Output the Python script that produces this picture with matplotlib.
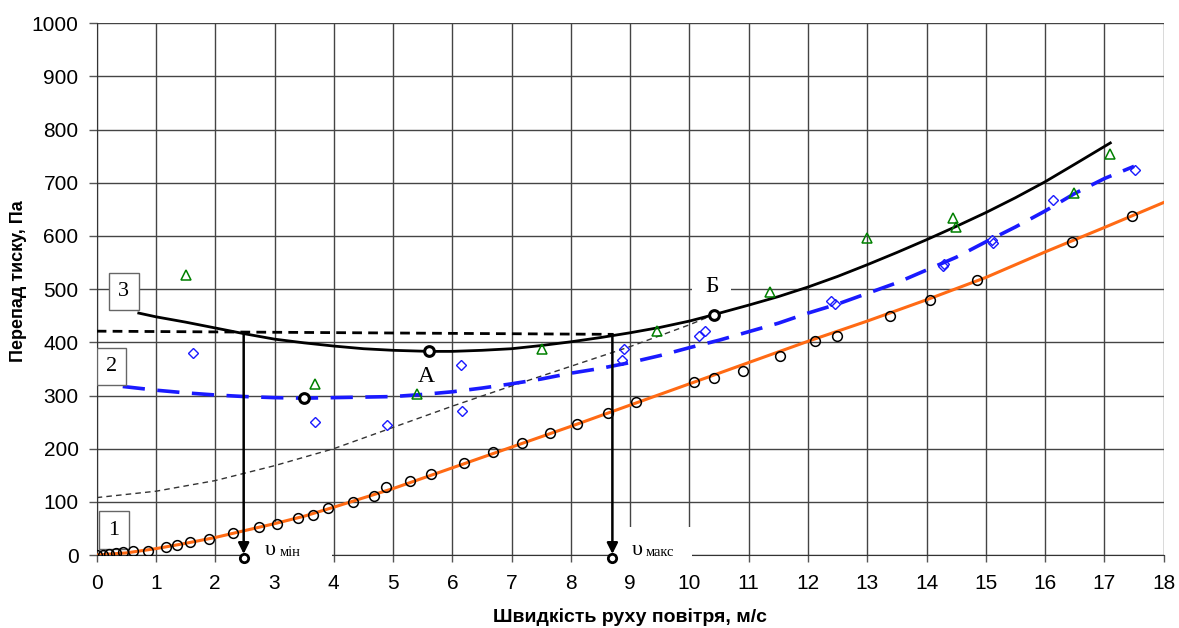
# plot.py
# Перепад тиску в залежності від швидкості руху повітря (криві 1, 2, 3)
# дані зчитані з графіка вручну

import matplotlib
matplotlib.use('Agg')
import matplotlib.pyplot as plt
from matplotlib.patches import Rectangle

plt.rcParams['font.family'] = ['Liberation Sans', 'DejaVu Sans']
plt.rcParams['lines.scale_dashes'] = False

# крива 1: експериментальні точки (кола) і апроксимація (помаранчева)
v1 = [0.01, 0.11, 0.21, 0.32, 0.44, 0.61, 0.87, 1.17, 1.35, 1.57, 1.89, 2.30,
      2.74, 3.05, 3.39, 3.65, 3.91, 4.32, 4.67, 4.88, 5.28, 5.64, 6.20, 6.69,
      7.18, 7.65, 8.10, 8.63, 9.09, 10.08, 10.41, 10.90, 11.53, 12.12, 12.49,
      13.39, 14.05, 14.85, 16.45, 17.47]
p1 = [0, 0, 1, 3, 5, 8, 8, 16, 18, 24, 30, 41,
      53, 58, 69, 76, 89, 100, 111, 127, 139, 153, 174, 193,
      210, 229, 246, 267, 288, 326, 333, 347, 374, 402, 412,
      450, 480, 517, 589, 638]
fit1_v = [0, 0.5, 1, 1.5, 2, 2.5, 3, 3.5, 4, 5, 6, 7, 8, 9, 10, 11, 12, 13,
          14, 15, 16, 17, 18]
fit1_p = [0, 4, 12, 22, 33, 46, 59, 73, 90, 125, 164, 203, 242, 282, 322,
          362, 402, 440, 480, 522, 570, 616, 663]

# крива 2: ромби і синя штрихова апроксимація
v2 = [1.63, 3.69, 4.89, 6.15, 6.16, 8.89, 8.86, 10.16, 10.27, 12.39, 12.45,
      14.27, 14.30, 15.12, 15.11, 16.14, 17.51]
p2 = [380, 251, 244, 358, 270, 388, 367, 411, 422, 477, 472,
      544, 548, 586, 592, 667, 724]
fit2_v = [0.44, 1, 1.5, 2, 2.5, 3, 3.5, 4, 4.5, 5, 5.5, 6, 6.5, 7, 7.5, 8,
          8.5, 9, 9.5, 10, 10.5, 11, 11.5, 12, 12.5, 13, 13.5, 14, 14.5, 15,
          15.5, 16, 16.5, 17, 17.5]
fit2_p = [317, 310, 305, 301, 298, 296, 295, 296, 297, 298, 302, 307, 314,
          322, 331, 342, 351, 362, 375, 390, 404, 420, 436, 455, 472, 492,
          512, 536, 560, 589, 617, 647, 680, 708, 731]

# крива 3: трикутники і чорна суцільна апроксимація
v3 = [1.51, 3.68, 5.40, 7.52, 9.45, 11.36, 12.99, 14.45, 14.49, 16.49, 17.10]
p3 = [527, 321, 303, 388, 422, 495, 596, 633, 617, 680, 755]
fit3_v = [0.71, 1, 1.5, 2, 2.5, 3, 3.5, 4, 4.5, 5, 5.6, 6, 6.5, 7, 7.5, 8,
          8.5, 9, 9.5, 10, 10.41, 11, 11.5, 12, 12.5, 13, 13.5, 14, 14.5, 15,
          15.5, 16, 16.5, 17.1]
fit3_p = [455, 448, 438, 427, 416, 406, 399, 393, 388, 385, 383, 383, 385,
          388, 394, 401, 409, 418, 428, 440, 452, 470, 486, 504, 524, 546,
          569, 593, 618, 644, 672, 702, 735, 775]

# допоміжна тонка штрихова крива до точки Б
aux_v = [0, 1, 2, 3, 4, 5, 6, 7, 8, 9, 10, 10.41]
aux_p = [108, 120, 140, 168, 200, 240, 280, 318, 355, 392, 433, 452]

# горизонтальна штрихова лінія і вертикальні стрілки
hline_v = [0, 8.72]
hline_p = [421, 415]
v_min, p_vmin = 2.48, 418
v_max, p_vmax = 8.70, 415

# характерні точки
special_v = [3.5, 5.61, 10.41]
special_p = [295, 383, 452]

fig = plt.figure(figsize=(11.79, 6.28), dpi=100)
ax = fig.add_axes([0.082, 0.1162, 0.905, 0.8467])
ax.set_xlim(0, 18)
ax.set_ylim(0, 1000)
ax.set_xticks(range(0, 19))
ax.set_yticks(range(0, 1001, 100))
ax.set_axisbelow(True)
ax.grid(True, color='#444444', lw=1.0)
for s in ['top', 'right']:
    ax.spines[s].set_visible(False)
for s in ['left', 'bottom']:
    ax.spines[s].set_color('#333333')
ax.tick_params(axis='x', length=5, width=1, color='#555555', labelsize=15, pad=9)
ax.tick_params(axis='y', length=6, width=1, color='#555555', labelsize=15, pad=7)

# білі підкладки під підписами (ховають сітку і вісь)
for x0, y0, w, h in [(2.55, -15, 1.42, 75), (8.78, -15, 1.27, 68), (10.05, 480, 0.65, 50)]:
    ax.add_patch(Rectangle((x0, y0), w, h, facecolor='white', edgecolor='none',
                           zorder=3, clip_on=False))

# лінії
ax.plot(aux_v, aux_p, color='#333333', lw=1.0, dashes=(4, 3), zorder=4)
ax.plot(hline_v, hline_p, color='black', lw=2.0, dashes=(7, 4.5), zorder=4)
ax.plot(fit1_v, fit1_p, color='#ff6a14', lw=2.2, zorder=5)
ax.plot(fit2_v, fit2_p, color='#1a1aff', lw=2.6, dashes=(16, 9), zorder=5)
ax.plot(fit3_v, fit3_p, color='black', lw=2.0, zorder=5)

# точки
ax.plot(v1, p1, 'o', mfc='none', mec='black', ms=7, mew=1.1, zorder=6)
ax.plot(v2, p2, 'D', mfc='none', mec='#1a1aff', ms=5.5, mew=1.0, zorder=6)
ax.plot(v3, p3, '^', mfc='none', mec='#008000', ms=7, mew=1.1, zorder=6)
ax.plot(special_v, special_p, 'o', mfc='white', mec='black', ms=7, mew=2.2, zorder=7)

# стрілки до осі швидкостей
for vx, py in [(v_min, p_vmin), (v_max, p_vmax)]:
    ax.annotate('', xy=(vx, 2), xytext=(vx, py),
                arrowprops=dict(arrowstyle='-|>', color='black', lw=1.8,
                                mutation_scale=16, shrinkA=0, shrinkB=0),
                zorder=7)
    ax.plot([vx], [-5], 'o', mfc='white', mec='black', ms=6, mew=2.0,
            zorder=8, clip_on=False)

serif = ['Liberation Serif', 'DejaVu Serif']
ax.text(v_min + 0.36, 8, 'υ', family=serif, fontsize=16, va='center', zorder=8)
ax.text(v_min + 0.60, 5, 'мін', family=serif, fontsize=10.5, va='center', zorder=8)
ax.text(v_max + 0.33, 8, 'υ', family=serif, fontsize=16, va='center', zorder=8)
ax.text(v_max + 0.57, 5, 'макс', family=serif, fontsize=10.5, va='center', zorder=8)
ax.text(5.56, 335, 'А', family=serif, fontsize=17, ha='center', va='center', zorder=8)
ax.text(10.38, 505, 'Б', family=serif, fontsize=17, ha='center', va='center', zorder=8)

# рамки з номерами кривих (точки кривої 1 лежать поверх рамки)
for x0, y0, w, h, lab in [(0.04, 11, 0.51, 72, '1'), (0.0, 319, 0.5, 71, '2'),
                          (0.2, 460, 0.51, 70, '3')]:
    ax.add_patch(Rectangle((x0, y0), w, h, facecolor='white', edgecolor='#666666',
                           lw=1.0, zorder=5.5))
    ax.text(x0 + w / 2, y0 + h / 2, lab, family=serif, fontsize=16,
            ha='center', va='center', zorder=5.6)

ax.set_xlabel('Швидкість руху повітря, м/с', fontsize=14, fontweight='bold', labelpad=11)
fig.text(0.0155, 0.553, 'Перепад тиску, Па', rotation=90, fontsize=13,
         fontweight='bold', ha='center', va='center')

fig.savefig('out.png', dpi=100)
